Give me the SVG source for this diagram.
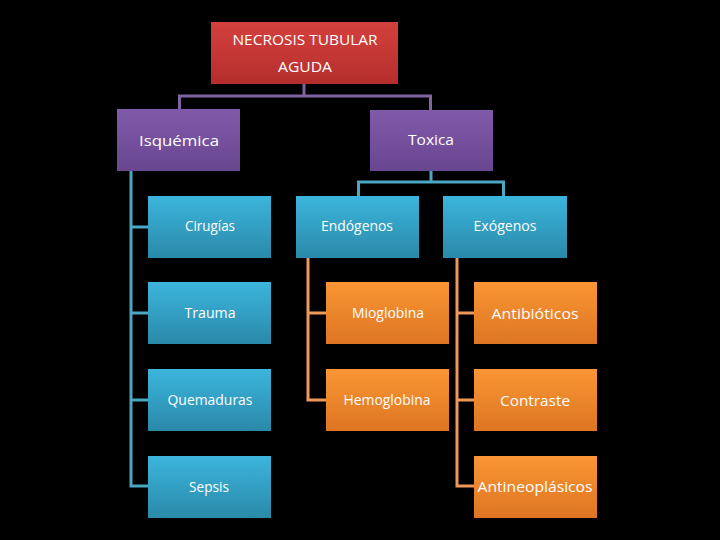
<svg xmlns="http://www.w3.org/2000/svg" width="720" height="540" viewBox="0 0 720 540">
<defs>
<linearGradient id="gRed" x1="0" y1="0" x2="0" y2="1"><stop offset="0" stop-color="#d4403e"/><stop offset="1" stop-color="#b52e2c"/></linearGradient>
<linearGradient id="gPur" x1="0" y1="0" x2="0" y2="1"><stop offset="0" stop-color="#7f5aaa"/><stop offset="1" stop-color="#694690"/></linearGradient>
<linearGradient id="gBlue" x1="0" y1="0" x2="0" y2="1"><stop offset="0" stop-color="#3cb5dd"/><stop offset="1" stop-color="#2a89a9"/></linearGradient>
<linearGradient id="gOr" x1="0" y1="0" x2="0" y2="1"><stop offset="0" stop-color="#fa9634"/><stop offset="1" stop-color="#dd7522"/></linearGradient>
<style>
text{font-family:"Open Sans","Liberation Sans",sans-serif;fill:#ffffff;text-anchor:middle;font-size:14px}
.c{fill:none;stroke-width:3}
.cp{stroke:#7f63a3}
.cb{stroke:#4ba7c2}
.co{stroke:#f0975a}
</style>
</defs>
<rect width="720" height="540" fill="#000"/>
<g id="connectors">
<path class="c cp" d="M304 84V96M178 96H432M179.5 96V109M430.5 96V110"/>
<path class="c cb" d="M131 171V486H148M131 227H148M131 313H148M131 400H148"/>
<path class="c cb" d="M431 171V182M357 182H505M358.5 182V196M503.5 182V196"/>
<path class="c co" d="M308 258V400H326M308 313H326"/>
<path class="c co" d="M457 258V486H474M457 313H474M457 400H474"/>
</g>
<g id="n-ntA"><rect x="211" y="22" width="187" height="62" fill="url(#gRed)"/><text x="305" y="45" font-size="15" textLength="145" lengthAdjust="spacingAndGlyphs">NECROSIS TUBULAR</text><text x="305" y="72" font-size="15" textLength="54" lengthAdjust="spacingAndGlyphs">AGUDA</text></g>
<g id="n-isq"><rect x="117" y="109" width="123" height="62" fill="url(#gPur)"/><text x="179" y="146" font-size="18" textLength="80" lengthAdjust="spacingAndGlyphs">Isquémica</text></g>
<g id="n-tox"><rect x="370" y="110" width="123" height="61" fill="url(#gPur)"/><text x="431" y="145" font-size="15.5" textLength="46" lengthAdjust="spacingAndGlyphs">Toxica</text></g>
<g id="n-cir"><rect x="148" y="196" width="123" height="62" fill="url(#gBlue)"/><text x="210" y="231" textLength="50" lengthAdjust="spacingAndGlyphs">Cirugías</text></g>
<g id="n-tra"><rect x="148" y="282" width="123" height="62" fill="url(#gBlue)"/><text x="210" y="318" textLength="51" lengthAdjust="spacingAndGlyphs">Trauma</text></g>
<g id="n-que"><rect x="148" y="369" width="123" height="62" fill="url(#gBlue)"/><text x="210" y="405" textLength="85" lengthAdjust="spacingAndGlyphs">Quemaduras</text></g>
<g id="n-sep"><rect x="148" y="456" width="123" height="62" fill="url(#gBlue)"/><text x="209" y="492" textLength="40" lengthAdjust="spacingAndGlyphs">Sepsis</text></g>
<g id="n-end"><rect x="296" y="196" width="123" height="62" fill="url(#gBlue)"/><text x="357" y="231" textLength="72" lengthAdjust="spacingAndGlyphs">Endógenos</text></g>
<g id="n-exo"><rect x="443" y="196" width="124" height="62" fill="url(#gBlue)"/><text x="505" y="231" textLength="63" lengthAdjust="spacingAndGlyphs">Exógenos</text></g>
<g id="n-mio"><rect x="326" y="282" width="123" height="62" fill="url(#gOr)"/><text x="388" y="318" textLength="72" lengthAdjust="spacingAndGlyphs">Mioglobina</text></g>
<g id="n-hem"><rect x="326" y="369" width="123" height="62" fill="url(#gOr)"/><text x="387" y="405" textLength="87" lengthAdjust="spacingAndGlyphs">Hemoglobina</text></g>
<g id="n-ant"><rect x="474" y="282" width="123" height="62" fill="url(#gOr)"/><text x="535" y="319" font-size="15" textLength="87" lengthAdjust="spacingAndGlyphs">Antibióticos</text></g>
<g id="n-con"><rect x="474" y="369" width="123" height="62" fill="url(#gOr)"/><text x="535" y="406" font-size="15" textLength="70" lengthAdjust="spacingAndGlyphs">Contraste</text></g>
<g id="n-neo"><rect x="474" y="456" width="123" height="62" fill="url(#gOr)"/><text x="535" y="492" font-size="15" textLength="115" lengthAdjust="spacingAndGlyphs">Antineoplásicos</text></g>
</svg>
